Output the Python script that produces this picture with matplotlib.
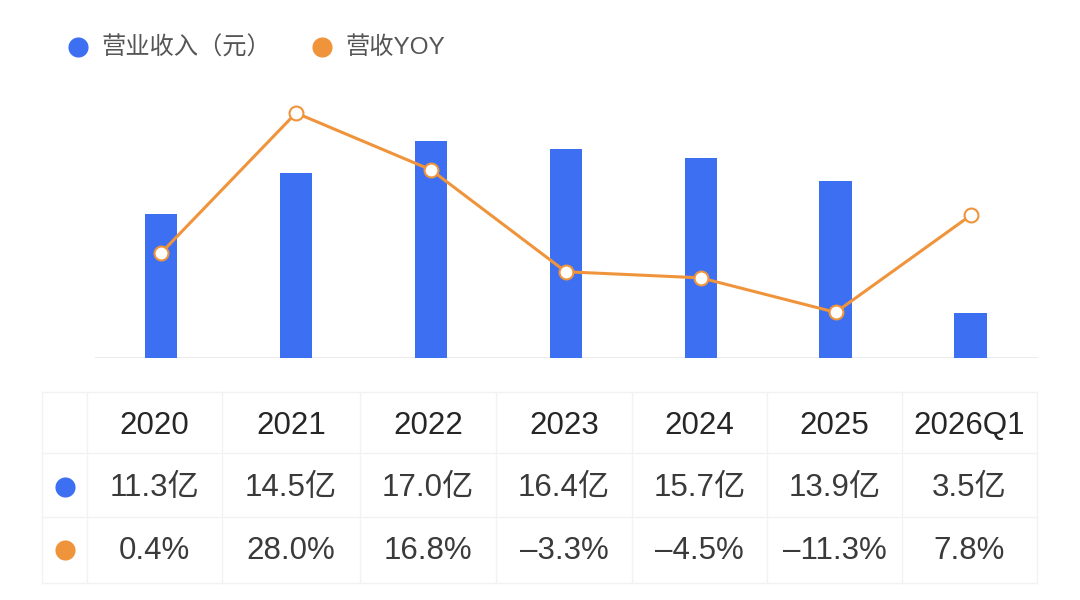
import matplotlib
matplotlib.use("Agg")
import matplotlib.pyplot as plt

plt.rcParams['font.family'] = ['Liberation Sans', 'Noto Sans CJK SC', 'DejaVu Sans']

# data
years = ["2020", "2021", "2022", "2023", "2024", "2025", "2026Q1"]
revenue = [11.3, 14.5, 17.0, 16.4, 15.7, 13.9, 3.5]   # 亿元
yoy = [0.4, 28.0, 16.8, -3.3, -4.5, -11.3, 7.8]        # %

BLUE = "#3d6ff2"
ORANGE = "#f0943c"
GRID = "#f2f2f2"

W, H = 1080, 600
fig = plt.figure(figsize=(W / 100, H / 100), dpi=100)


def fx(px):
    return px / W


def fy(py):
    return 1 - py / H


# main chart: pixel box x 95..1038, y 80..358
ax = fig.add_axes([fx(95), fy(358), fx(1038) - fx(95), fy(80) - fy(358)])
xs = list(range(len(years)))
ax.bar(xs, revenue, width=0.24, color=BLUE, zorder=2)
ax.set_xlim(-0.49, 6.5)
ax.set_ylim(0, 21.8)
ax.axis("off")
ax.axhline(0, color="#e8e8e8", lw=1.2, zorder=1)

ax2 = ax.twinx()
ax2.plot(xs, yoy, color=ORANGE, lw=2.2, marker="o", ms=10,
         mfc="white", mec=ORANGE, mew=1.5, zorder=3)
ax2.set_ylim(-20.3, 34.5)
ax2.axis("off")

# overlay for legend and table, in pixel coordinates
ov = fig.add_axes([0, 0, 1, 1], zorder=-1)
ov.set_xlim(0, W)
ov.set_ylim(H, 0)
ov.axis("off")

# legend
ov.scatter([78], [47], s=210, color=BLUE, lw=0)
ov.text(101, 48, "营业收入（元）", fontsize=17.5, color="#555555", va="center", ha="left")
ov.scatter([322], [47], s=210, color=ORANGE, lw=0)
ov.text(345, 48, "营收YOY", fontsize=17.5, color="#555555", va="center", ha="left")

# table grid
col_edges = [87, 222, 360, 496, 632, 767, 902, 1037]
row_edges = [392, 453, 517, 583]
left = 42
for x in col_edges:
    ov.plot([x, x], [row_edges[0], row_edges[-1]], color=GRID, lw=1)
ov.plot([left, left], [row_edges[0], row_edges[-1]], color=GRID, lw=1)
for y in row_edges:
    ov.plot([left, col_edges[-1]], [y, y], color=GRID, lw=1)

row_mid = [(row_edges[i] + row_edges[i + 1]) / 2 for i in range(3)]
col_mid = [(col_edges[i] + col_edges[i + 1]) / 2 for i in range(len(years))]

ov.scatter([65], [row_mid[1] + 2], s=210, color=BLUE, lw=0)
ov.scatter([65], [row_mid[2]], s=210, color=ORANGE, lw=0)

for i, yr in enumerate(years):
    ov.text(col_mid[i], row_mid[0] + 3, yr, fontsize=22.5, color="#262626",
            ha="center", va="center")
    ov.text(col_mid[i], row_mid[1] + 3, f"{revenue[i]:.1f}亿", fontsize=22.5,
            color="#3a3a3a", ha="center", va="center")
    s = f"{yoy[i]:.1f}%".replace("-", "\u2013")
    ov.text(col_mid[i], row_mid[2] + 1, s, fontsize=22.5, color="#3a3a3a",
            ha="center", va="center")

fig.savefig("out.png", dpi=100, facecolor="white")
